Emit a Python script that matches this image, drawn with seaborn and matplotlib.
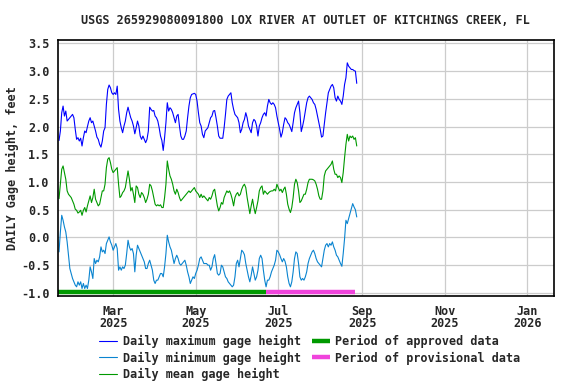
import matplotlib
matplotlib.use("Agg")
import matplotlib.pyplot as plt
import matplotlib.dates as mdates
import seaborn as sns
import pandas as pd

title = "USGS 265929080091800 LOX RIVER AT OUTLET OF KITCHINGS CREEK, FL"
ylabel = "DAILY Gage height, feet"
start_date = "2025-01-20"

daily_max = [
    1.75, 1.92, 2.25, 2.37, 2.19, 2.28, 2.10, 2.13, 2.16, 2.19,
    2.22, 2.16, 1.95, 1.77, 1.80, 1.74, 1.79, 1.65, 1.80, 1.92,
    1.89, 2.00, 2.10, 2.16, 2.07, 2.10, 2.01, 1.92, 1.81, 1.77,
    1.68, 1.63, 1.74, 1.92, 1.98, 2.40, 2.67, 2.75, 2.70, 2.61,
    2.58, 2.61, 2.58, 2.73, 2.31, 2.10, 1.98, 1.89, 2.01, 2.10,
    2.25, 2.35, 2.25, 2.16, 2.10, 2.01, 1.87, 1.98, 2.10, 2.01,
    1.83, 1.77, 1.83, 1.77, 1.71, 1.77, 1.92, 2.35, 2.31, 2.28,
    2.29, 2.19, 2.16, 2.10, 1.98, 1.83,
    1.75, 1.57, 1.80, 2.07, 2.43, 2.28, 2.34, 2.31, 2.25, 2.16,
    2.07, 2.19, 2.22, 2.01, 1.83, 1.77, 1.77, 1.83, 1.92, 2.16,
    2.37, 2.52, 2.58, 2.59, 2.60, 2.58, 2.46, 2.25, 2.07, 2.01,
    1.86, 1.80, 1.92, 1.95, 1.98, 2.07, 2.16, 2.19, 2.28, 2.29,
    2.16, 2.01, 1.83, 1.79, 1.79, 1.79, 1.98, 2.22, 2.49, 2.55,
    2.58, 2.61, 2.43, 2.31, 2.22, 2.19, 2.16, 2.07, 1.89, 1.95,
    2.07, 2.13, 2.25, 2.16, 2.01, 1.95, 1.89, 2.07, 2.13, 2.10,
    2.01, 1.83, 2.01,
    2.07, 2.16, 2.22, 2.25, 2.19, 2.37, 2.49, 2.43, 2.40, 2.43,
    2.40, 2.34, 2.19, 2.07, 1.95, 1.81, 1.89, 2.04, 2.16, 2.13,
    2.07, 2.04, 1.98, 1.91, 2.07, 2.25, 2.34, 2.40, 2.46, 2.25,
    1.91, 2.01, 2.13, 2.28, 2.43, 2.52, 2.55, 2.52, 2.49, 2.43,
    2.40, 2.31, 2.19, 2.07, 1.95, 1.81, 1.83, 2.04, 2.25, 2.43,
    2.61, 2.67, 2.73, 2.76, 2.70, 2.52, 2.46, 2.55, 2.49, 2.46,
    2.40, 2.55, 2.76, 2.88, 3.15, 3.09, 3.06, 3.03, 3.03, 3.01,
    3.00, 2.78,
]

daily_min = [
    -0.26, 0.10, 0.40, 0.31, 0.19, 0.10, -0.08, -0.32, -0.56, -0.65,
    -0.74, -0.80, -0.86, -0.89, -0.80, -0.86, -0.80, -0.92, -0.83, -0.92,
    -0.86, -0.92, -0.77, -0.53, -0.62, -0.74, -0.38, -0.47, -0.41, -0.44,
    -0.35, -0.17, -0.26, -0.23, -0.29, -0.11, -0.05, 0.01, -0.08, -0.14,
    -0.23, -0.17, -0.11, -0.20, -0.59, -0.53, -0.59, -0.53, -0.56, -0.50,
    -0.29, -0.05, -0.17, -0.23, -0.20, -0.29, -0.62, -0.32, -0.14, -0.20,
    -0.26, -0.32, -0.38, -0.44, -0.56, -0.56, -0.47, -0.41, -0.50, -0.59,
    -0.77, -0.83, -0.77, -0.77, -0.71, -0.65,
    -0.65, -0.71, -0.53, -0.29, 0.04, -0.08, -0.17, -0.23, -0.35, -0.47,
    -0.38, -0.32, -0.38, -0.47, -0.50, -0.47, -0.44, -0.41, -0.50, -0.62,
    -0.71, -0.83, -0.77, -0.71, -0.74, -0.65, -0.59, -0.50, -0.38, -0.35,
    -0.41, -0.47, -0.47, -0.47, -0.50, -0.50, -0.59, -0.53, -0.38, -0.31,
    -0.47, -0.65, -0.68, -0.65, -0.50, -0.53, -0.62, -0.71, -0.74, -0.80,
    -0.83, -0.86, -0.89, -0.86, -0.71, -0.47, -0.41, -0.53, -0.38, -0.23,
    -0.26, -0.31, -0.47, -0.59, -0.71, -0.80, -0.68, -0.53, -0.65, -0.77,
    -0.71, -0.59, -0.38,
    -0.32, -0.38, -0.59, -0.77, -0.89, -0.77, -0.77, -0.71, -0.62, -0.56,
    -0.50, -0.41, -0.23, -0.26, -0.31, -0.38, -0.44, -0.38, -0.43, -0.53,
    -0.71, -0.83, -0.89, -0.80, -0.62, -0.38, -0.26, -0.29, -0.47, -0.71,
    -0.77, -0.74, -0.77, -0.71, -0.62, -0.47, -0.38, -0.32, -0.26, -0.23,
    -0.29, -0.38, -0.44, -0.47, -0.50, -0.53, -0.38, -0.23, -0.14, -0.11,
    -0.17, -0.11, -0.14, -0.08, -0.17, -0.23, -0.32, -0.35, -0.41, -0.47,
    -0.52, -0.29, -0.02, 0.31, 0.25, 0.34, 0.43, 0.52, 0.61, 0.55,
    0.50, 0.37,
]

daily_mean = [
    0.70, 0.96, 1.23, 1.29, 1.17, 1.05, 0.84, 0.78, 0.75, 0.72,
    0.66, 0.60, 0.51, 0.49, 0.44, 0.46, 0.49, 0.40, 0.49, 0.54,
    0.46, 0.57, 0.66, 0.75, 0.63, 0.72, 0.87, 0.69, 0.63, 0.57,
    0.60, 0.72, 0.84, 0.84, 0.96, 1.26, 1.41, 1.44, 1.35, 1.23,
    1.17, 1.20, 1.23, 1.26, 0.96, 0.72, 0.75, 0.81, 0.84, 0.90,
    1.05, 1.20, 1.05, 0.84, 0.90, 0.78, 0.63, 0.93, 0.90, 0.78,
    0.72, 0.81, 0.78, 0.72, 0.63, 0.69, 0.78, 0.96, 0.93, 0.84,
    0.72, 0.60, 0.57, 0.59, 0.57, 0.59,
    0.54, 0.54, 0.72, 0.96, 1.38, 1.23, 1.11, 1.05, 0.96, 0.84,
    0.78, 0.87, 0.81, 0.72, 0.66, 0.69, 0.72, 0.75, 0.78, 0.81,
    0.84, 0.81, 0.84, 0.87, 0.90, 0.84, 0.81, 0.78, 0.72, 0.78,
    0.72, 0.75, 0.72, 0.69, 0.66, 0.72, 0.69, 0.75, 0.84, 0.87,
    0.72, 0.57, 0.48, 0.54, 0.63, 0.60, 0.72, 0.78, 0.84, 0.81,
    0.84, 0.78, 0.69, 0.57, 0.72, 0.78, 0.81, 0.75, 0.78, 0.87,
    0.93, 0.96, 0.90, 0.72, 0.57, 0.43, 0.57, 0.69, 0.54, 0.43,
    0.54, 0.66, 0.84,
    0.90, 0.93, 0.78, 0.84, 0.81, 0.78, 0.81, 0.83, 0.84, 0.84,
    0.87, 0.84, 0.96, 0.90, 0.84, 0.87, 0.81, 0.87, 0.91, 0.78,
    0.60, 0.51, 0.45, 0.54, 0.72, 0.96, 1.05, 0.99, 0.84, 0.63,
    0.66, 0.72, 0.78, 0.78, 0.87, 0.99, 1.05, 1.05, 1.05, 1.04,
    1.02, 0.96, 0.87, 0.75, 0.69, 0.69, 0.84, 1.11, 1.20, 1.23,
    1.26, 1.29, 1.32, 1.38, 1.23, 1.14, 1.14, 1.08, 1.11, 1.08,
    0.99, 1.17, 1.44, 1.68, 1.86, 1.74, 1.83, 1.80, 1.83, 1.77,
    1.80, 1.65,
]

series_labels = ["Daily maximum gage height", "Daily minimum gage height",
                 "Daily mean gage height"]
period_labels = ["Period of approved data", "Period of provisional data"]
approved_period = ["2025-01-19", "2025-06-22"]
provisional_period = ["2025-06-22", "2025-08-27"]
period_level = -0.99
x_range = ["2025-01-19 06:00", "2026-01-21"]
y_range = [-1.05, 3.57]

dates = pd.date_range(start_date, periods=len(daily_max), freq="D")
df = pd.DataFrame({"date": dates, "max": daily_max,
                   "min": daily_min, "mean": daily_mean})

sns.set_style("white")
plt.rcParams["font.family"] = ["DejaVu Sans Mono"]
plt.rcParams["font.weight"] = "bold"

fig = plt.figure(figsize=(5.76, 3.84), dpi=100)
ax = fig.add_axes([0.1007, 0.230, 0.8617, 0.667])

fs = 8.5
sns.lineplot(data=df, x="date", y="max", ax=ax, color="#0000ff", lw=0.8,
             label=series_labels[0])
sns.lineplot(data=df, x="date", y="min", ax=ax, color="#0a84d0", lw=0.8,
             label=series_labels[1])
sns.lineplot(data=df, x="date", y="mean", ax=ax, color="#009900", lw=0.8,
             label=series_labels[2])

ap = pd.to_datetime(approved_period)
pp = pd.to_datetime(provisional_period)
sns.lineplot(x=ap, y=[period_level] * 2, ax=ax, color="#009900", lw=3.2,
             label=period_labels[0])
sns.lineplot(x=pp, y=[period_level] * 2, ax=ax, color="#f044dc", lw=3.2,
             label=period_labels[1])
for ln in ax.get_lines()[-2:]:
    ln.set_solid_capstyle("butt")

ax.set_xlim(pd.to_datetime(x_range[0]), pd.to_datetime(x_range[1]))
ax.set_ylim(*y_range)
ax.set_yticks([-1.0, -0.5, 0.0, 0.5, 1.0, 1.5, 2.0, 2.5, 3.0, 3.5])
ax.yaxis.set_major_formatter(matplotlib.ticker.FormatStrFormatter("%.1f"))
ax.xaxis.set_major_locator(mdates.MonthLocator(bymonth=[1, 3, 5, 7, 9, 11]))
ax.xaxis.set_major_formatter(mdates.DateFormatter("%b\n%Y"))
ax.grid(True, color="#cccccc", lw=0.9)
ax.set_axisbelow(True)
ax.tick_params(axis="both", length=0, labelsize=fs)
ax.tick_params(axis="y", pad=6)
ax.tick_params(axis="x", pad=6.5)
fig.canvas.draw()
for lab in ax.get_xticklabels() + ax.get_yticklabels():
    lab.set_fontweight("bold")
for lab in ax.get_xticklabels():
    lab.set_linespacing(0.95)
for sp in ax.spines.values():
    sp.set_color("black")
    sp.set_linewidth(1.2)

ax.set_xlabel("")
ax.set_ylabel(ylabel, fontsize=fs, fontweight="bold", labelpad=1.5)
fig.text(0.531, 0.947, title, ha="center", va="center", fontsize=fs,
         fontweight="bold")

handles, labels = ax.get_legend_handles_labels()
if ax.legend_:
    ax.legend_.remove()
fig.legend(handles, labels, loc="upper left", bbox_to_anchor=(0.172, 0.128),
           ncol=2, frameon=False, handlelength=1.55,
           handletextpad=0.45, columnspacing=0.92, labelspacing=0.3,
           borderpad=0, borderaxespad=0, prop={"weight": "bold", "size": fs})

fig.savefig("out.png", dpi=100)
